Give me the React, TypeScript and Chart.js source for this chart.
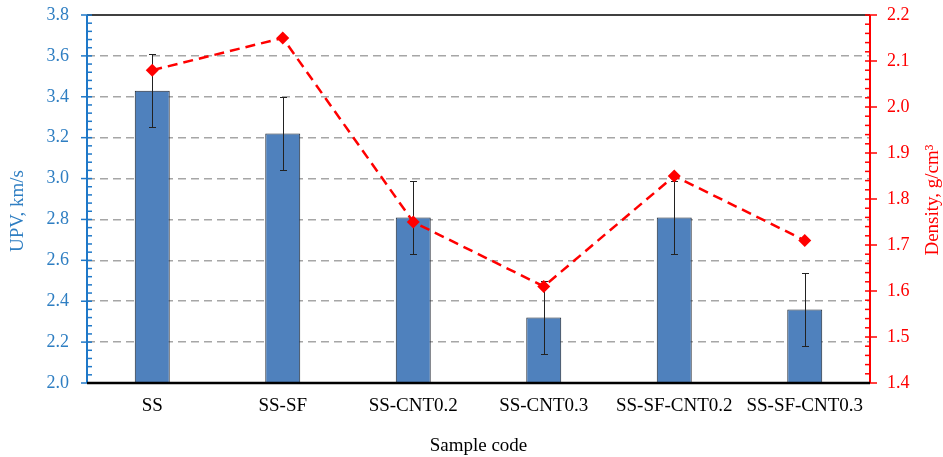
import React, { useEffect, useRef } from 'react';
import { Chart, registerables } from 'chart.js';

Chart.register(...registerables);

const categories = ['SS', 'SS-SF', 'SS-CNT0.2', 'SS-CNT0.3', 'SS-SF-CNT0.2', 'SS-SF-CNT0.3'];
const upv = [3.43, 3.22, 2.81, 2.32, 2.81, 2.36];
const upvError = [0.18, 0.18, 0.18, 0.18, 0.18, 0.18];
const density = [2.08, 2.15, 1.75, 1.61, 1.85, 1.71];

const leftTitle = 'UPV, km/s';
const rightTitle = 'Density, g/cm³';
const xTitle = 'Sample code';

const BLUE = '#2E7EC2';
const BLUE_AXIS = '#1F78C8';
const RED = '#FF0000';
const FONT = '"Liberation Serif", "Times New Roman", serif';

const decorPlugin = {
  id: 'decor',
  afterDatasetDraw(chart: any, args: any) {
    if (args.index !== 0) return;
    const ctx = chart.ctx;
    const meta = chart.getDatasetMeta(0);
    const y = chart.scales.y;
    ctx.save();
    ctx.strokeStyle = '#222222';
    ctx.lineWidth = 1;
    meta.data.forEach((bar: any, i: number) => {
      const top = Math.round(y.getPixelForValue(upv[i] + upvError[i])) + 0.5;
      const bot = Math.round(y.getPixelForValue(upv[i] - upvError[i])) + 0.5;
      const x = Math.round(bar.x) + 0.5;
      ctx.beginPath();
      ctx.moveTo(x, top);
      ctx.lineTo(x, bot);
      ctx.moveTo(x - 3.5, top);
      ctx.lineTo(x + 3.5, top);
      ctx.moveTo(x - 3.5, bot);
      ctx.lineTo(x + 3.5, bot);
      ctx.stroke();
    });
    ctx.restore();
  },
  afterDraw(chart: any) {
    const ctx = chart.ctx;
    const { left, right, top, bottom } = chart.chartArea;
    const yL = chart.scales.y;
    const yR = chart.scales.y1;
    ctx.save();
    // top border
    ctx.strokeStyle = '#000';
    ctx.lineWidth = 1.5;
    ctx.beginPath();
    ctx.moveTo(left, top);
    ctx.lineTo(right, top);
    ctx.stroke();
    // left axis
    ctx.strokeStyle = BLUE_AXIS;
    ctx.lineWidth = 2;
    ctx.beginPath();
    ctx.moveTo(left, top);
    ctx.lineTo(left, bottom);
    ctx.stroke();
    ctx.lineWidth = 1.5;
    for (let k = 0; k <= 45; k++) {
      const v = 2 + k * 0.04;
      const py = yL.getPixelForValue(v);
      ctx.beginPath();
      if (k % 5 === 0) {
        ctx.moveTo(left - 6, py);
        ctx.lineTo(left + 5, py);
      } else {
        ctx.moveTo(left, py);
        ctx.lineTo(left + 5, py);
      }
      ctx.stroke();
    }
    // right axis
    ctx.strokeStyle = RED;
    ctx.lineWidth = 2;
    ctx.beginPath();
    ctx.moveTo(right, top);
    ctx.lineTo(right, bottom);
    ctx.stroke();
    ctx.lineWidth = 1.5;
    for (let k = 0; k <= 40; k++) {
      const v = 1.4 + k * 0.02;
      const py = yR.getPixelForValue(v);
      ctx.beginPath();
      if (k % 5 === 0) {
        ctx.moveTo(right - 5, py);
        ctx.lineTo(right + 7, py);
      } else {
        ctx.moveTo(right - 5, py);
        ctx.lineTo(right, py);
      }
      ctx.stroke();
    }
    // bottom axis
    ctx.strokeStyle = '#000';
    ctx.lineWidth = 2.5;
    ctx.beginPath();
    ctx.moveTo(left, bottom);
    ctx.lineTo(right, bottom);
    ctx.stroke();
    // titles
    ctx.font = '19px ' + FONT;
    ctx.textAlign = 'center';
    ctx.textBaseline = 'middle';
    ctx.fillStyle = BLUE;
    ctx.save();
    ctx.translate(18.5, 211);
    ctx.rotate(-Math.PI / 2);
    ctx.fillText(leftTitle, 0, 0);
    ctx.restore();
    ctx.fillStyle = RED;
    ctx.save();
    ctx.translate(933, 200);
    ctx.rotate(-Math.PI / 2);
    ctx.fillText(rightTitle, 0, 0);
    ctx.restore();
    ctx.restore();
  },
};

export default function App() {
  const ref = useRef<HTMLCanvasElement | null>(null);
  useEffect(() => {
    document.body.style.margin = '0';
    const canvas = ref.current;
    if (!canvas) return;
    const near = (a: number, b: number) => Math.abs(a - b) < 1e-6;
    const chart = new Chart(canvas, {
      type: 'bar',
      data: {
        labels: categories,
        datasets: [
          {
            type: 'bar',
            label: 'UPV',
            data: upv,
            yAxisID: 'y',
            backgroundColor: '#4F81BD',
            borderColor: '#1E2530',
            borderWidth: 1,
            categoryPercentage: 1,
            barPercentage: 0.268,
            order: 1,
          } as any,
          {
            type: 'line',
            label: 'Density',
            data: density,
            yAxisID: 'y1',
            borderColor: RED,
            backgroundColor: RED,
            borderWidth: 2.5,
            borderDash: [10, 6],
            pointStyle: 'rectRot',
            pointRadius: 6.5,
            pointBorderWidth: 0,
            fill: false,
            tension: 0,
            order: 0,
          } as any,
        ],
      },
      options: {
        animation: false,
        responsive: true,
        maintainAspectRatio: false,
        layout: { padding: { top: 15, left: 0, right: 0, bottom: 0 } },
        plugins: { legend: { display: false }, tooltip: { enabled: false } },
        scales: {
          x: {
            offset: true,
            grid: { display: false, drawTicks: false },
            border: { display: false },
            ticks: {
              color: '#000',
              font: { family: FONT, size: 19 },
              padding: 12,
              maxRotation: 0,
              autoSkip: false,
            },
            title: {
              display: true,
              text: xTitle,
              color: '#000',
              font: { family: FONT, size: 19 },
              padding: { top: 0, bottom: 0 },
            },
            afterFit: (s: any) => {
              s.height = 74;
              s.paddingLeft = 0;
              s.paddingRight = 0;
            },
          },
          y: {
            position: 'left',
            min: 2,
            max: 3.8,
            ticks: {
              stepSize: 0.2,
              color: BLUE,
              font: { family: FONT, size: 18 },
              padding: 18,
              callback: (v: any) => Number(v).toFixed(1),
            },
            grid: {
              drawTicks: false,
              lineWidth: 1.5,
              color: (c: any) =>
                c.tick && (near(c.tick.value, 2) || near(c.tick.value, 3.8)) ? 'rgba(0,0,0,0)' : '#A6A6A6',
            },
            border: { display: false, dash: [8, 5] },
            afterFit: (s: any) => {
              s.width = 87;
              s.paddingTop = 0;
              s.paddingBottom = 0;
            },
          },
          y1: {
            position: 'right',
            min: 1.4,
            max: 2.2,
            ticks: {
              stepSize: 0.1,
              color: RED,
              font: { family: FONT, size: 18 },
              padding: 17,
              callback: (v: any) => Number(v).toFixed(1),
            },
            grid: { display: false, drawTicks: false, drawOnChartArea: false },
            border: { display: false },
            afterFit: (s: any) => {
              s.width = 73;
              s.paddingTop = 0;
              s.paddingBottom = 0;
            },
          },
        },
      },
      plugins: [decorPlugin],
    });
    return () => chart.destroy();
  }, []);
  return (
    <div style={{ width: 943, height: 457, position: 'relative' }}>
      <canvas ref={ref} />
    </div>
  );
}
